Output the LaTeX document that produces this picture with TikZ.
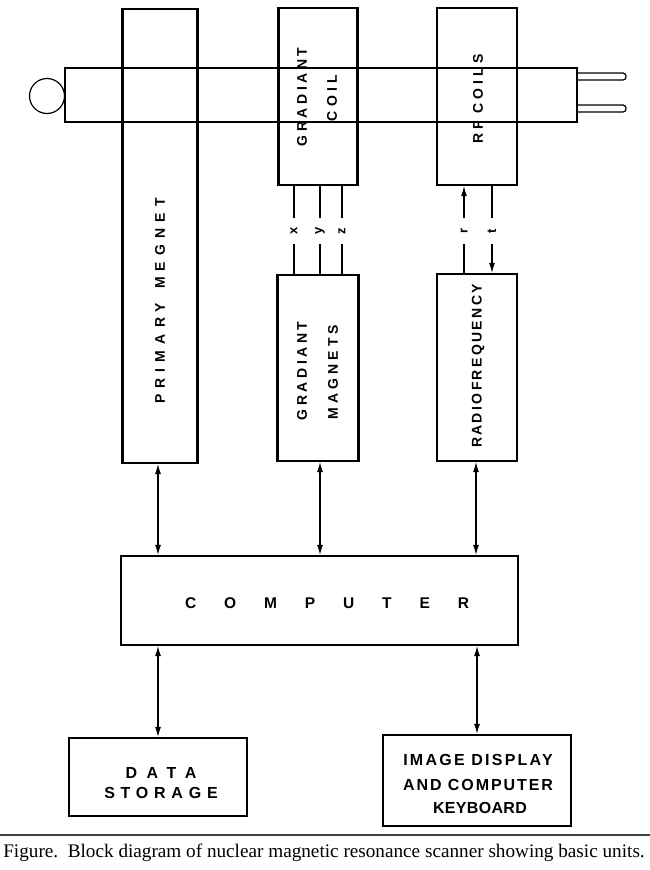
\documentclass[tikz,border=0pt]{standalone}
\usepackage{fontspec}
\setmainfont{Liberation Serif}
\newfontfamily\lab{Liberation Sans}
\newcommand\lsp[1]{\addfontfeatures{LetterSpace=#1}}
\usetikzlibrary{arrows.meta}
\tikzset{
  box/.style={draw, line width=2.2pt, inner sep=0pt},
  tubeline/.style={line width=1.2pt},
  conn/.style={line width=1.1pt},
  dbl/.style={conn, {Latex[length=10pt,width=6pt]}-{Latex[length=10pt,width=6pt]}},
  vlab/.style={rotate=90, inner sep=0pt},
  hlab/.style={inner sep=0pt},
  sig/.style={rotate=90, inner sep=0pt, minimum width=26pt, font=\lab\bfseries\fontsize{13}{15}\selectfont},
}
\begin{document}
\begin{tikzpicture}[x=1pt,y=-1pt]
\useasboundingbox (0,0) rectangle (650,870);
% boxes
\node[box, minimum width=75pt, minimum height=454pt] (pm) at (160,236) {};
\node[box, minimum width=79pt, minimum height=177pt] (gc) at (318,96.5) {};
\node[box, minimum width=80pt, minimum height=177pt] (rc) at (477,96.5) {};
\node[box, minimum width=81pt, minimum height=186pt] (gm) at (318,368) {};
\node[box, minimum width=80pt, minimum height=187pt] (rf) at (477,367.5) {};
\node[box, minimum width=397pt, minimum height=89pt] (comp) at (319.5,600.5) {};
\node[box, minimum width=178pt, minimum height=78pt] (ds) at (158,777) {};
\node[box, minimum width=188pt, minimum height=91pt] (im) at (477,780.5) {};
% tube, head and prongs
\node[draw, tubeline, inner sep=0pt, minimum width=512pt, minimum height=54pt] (tube) at (321,95) {};
\node[draw, tubeline, circle, inner sep=0pt, minimum size=35pt] (head) at (47,96) {};
\draw[tubeline, rounded corners=3pt] (tube.east |- 0,73) -- (626,73) -- (626,80) -- (tube.east |- 0,80);
\draw[tubeline, rounded corners=3pt] (tube.east |- 0,105) -- (626,105) -- (626,112) -- (tube.east |- 0,112);
% texts in boxes
\node[vlab, font=\lab\bfseries\fontsize{14}{16}\selectfont\lsp{44}] (tpm) at (160,301) {PRIMARY\hspace{4pt} MEGNET};
\node[vlab, font=\lab\bfseries\fontsize{14}{16}\selectfont\lsp{25}] (tgc1) at (302,97) {GRADIANT};
\node[vlab, font=\lab\bfseries\fontsize{14}{16}\selectfont\lsp{32}] (tgc2) at (332,98) {COIL};
\node[vlab, font=\lab\bfseries\fontsize{14}{16}\selectfont\lsp{29}] (trc) at (478,99) {RF COILS};
\node[vlab, font=\lab\bfseries\fontsize{14}{16}\selectfont\lsp{25}] (tgm1) at (302,371) {GRADIANT};
\node[vlab, font=\lab\bfseries\fontsize{14}{16}\selectfont\lsp{29}] (tgm2) at (333,372) {MAGNETS};
\node[vlab, font=\lab\bfseries\fontsize{14}{16}\selectfont\lsp{17}] (trf) at (478,366) {RADIOFREQUENCY};
\node[hlab, font=\lab\bfseries\fontsize{15.5}{17}\selectfont\lsp{180}] (tcomp) at (327,603) {COMPUTER};
\node[hlab, font=\lab\bfseries\fontsize{16}{18}\selectfont\lsp{60}] (tds1) at (161,773) {DATA};
\node[hlab, font=\lab\bfseries\fontsize{16}{18}\selectfont\lsp{36}] (tds2) at (161,793) {STORAGE};
\node[hlab, font=\lab\bfseries\fontsize{16}{18}\selectfont\lsp{14}] (tim1) at (478,760) {IMAGE DISPLAY};
\node[hlab, font=\lab\bfseries\fontsize{16}{18}\selectfont\lsp{12}] (tim2) at (478,785) {AND COMPUTER};
\node[hlab, font=\lab\bfseries\fontsize{16}{18}\selectfont\lsp{2}] (tim3) at (480,808) {KEYBOARD};
% x y z signals
\node[sig] (lx) at (294,231) {x};
\node[sig] (ly) at (320,231) {y};
\node[sig] (lz) at (342,231) {z};
\foreach \s in {lx,ly,lz}{
  \draw[conn] (\s) -- (\s |- gc.south);
  \draw[conn] (\s) -- (\s |- gm.north);
}
% r t signals
\node[sig] (lr) at (464,231) {r};
\node[sig] (lt) at (492,231) {t};
\draw[conn, -{Latex[length=10pt,width=6pt]}] (lr) -- (lr |- rc.south);
\draw[conn] (lr) -- (lr |- rf.north);
\draw[conn] (lt) -- (lt |- rc.south);
\draw[conn, -{Latex[length=10pt,width=6pt]}] (lt) -- (lt |- rf.north);
% computer links
\coordinate (a1) at (158,0);
\coordinate (a2) at (320,0);
\coordinate (a3) at (476,0);
\draw[dbl] (pm.south -| a1) -- (comp.north -| a1);
\draw[dbl] (gm.south -| a2) -- (comp.north -| a2);
\draw[dbl] (rf.south -| a3) -- (comp.north -| a3);
\draw[dbl] (comp.south -| ds.north) -- (ds.north);
\draw[dbl] (comp.south -| im.north) -- (im.north);
% caption
\coordinate (r1) at (0,835);
\coordinate (r2) at (650,835);
\draw[line width=1.6pt, black!75] (r1) -- (r2);
\node[inner sep=0pt] (cap) at (324,853) {\fontsize{19.2}{22}\selectfont Figure.\ \ Block diagram of nuclear magnetic resonance scanner showing basic units.};
\end{tikzpicture}
\end{document}
